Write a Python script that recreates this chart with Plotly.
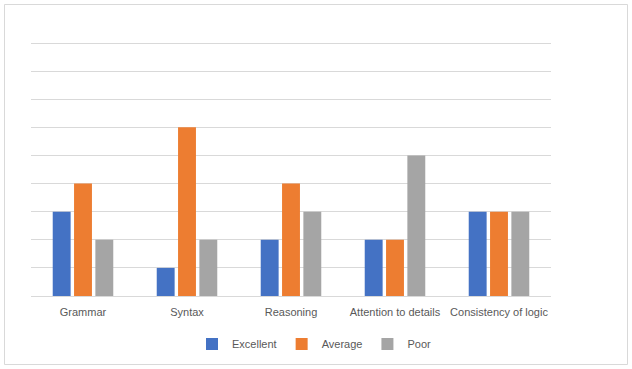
import plotly.graph_objects as go

categories = ["Grammar", "Syntax", "Reasoning", "Attention to details", "Consistency of logic"]
excellent = [3, 1, 2, 2, 3]
average = [4, 6, 4, 2, 3]
poor = [2, 2, 3, 5, 3]

colors = {"Excellent": "#4472C4", "Average": "#ED7D31", "Poor": "#A5A5A5"}

fig = go.Figure()
for name, vals in [("Excellent", excellent), ("Average", average), ("Poor", poor)]:
    fig.add_trace(go.Bar(x=categories, y=vals, name=name, marker_color=colors[name], marker_line_width=0))

L, R, T, B = 31, 551, 40, 296
W, H = 632, 369
pw, ph = R - L, B - T
ymax = 9 * ph / (B - 43)

def px(x):
    return (x - L) / pw

def py(y):
    return (B - y) / ph

fig.update_layout(
    width=W, height=H,
    margin=dict(l=L, r=W - R, t=T, b=H - B, autoexpand=False),
    paper_bgcolor="white", plot_bgcolor="white",
    barmode="group", bargap=0.385, bargroupgap=0.16,
    font=dict(family="Liberation Sans", size=11, color="#595959"),
    xaxis=dict(showgrid=False, showline=True, linecolor="#d9d9d9", linewidth=1,
               ticks="", ticklabelstandoff=6, tickfont=dict(size=11, color="#595959"), fixedrange=True),
    yaxis=dict(range=[0, ymax], tickvals=list(range(1, 10)), showgrid=True, gridcolor="#d9d9d9", gridwidth=1,
               showticklabels=False, zeroline=False, fixedrange=True),
    legend=dict(orientation="h", x=px(314), xanchor="center", y=py(344), yanchor="middle",
                font=dict(size=11, color="#595959"), itemwidth=30, traceorder="normal"),
    showlegend=True,
    shapes=[dict(type="rect", xref="paper", yref="paper",
                 x0=px(4.5), x1=px(627.5), y0=py(364.5), y1=py(4.5),
                 line=dict(color="#d9d9d9", width=1), fillcolor="rgba(0,0,0,0)", layer="below")],
)

fig.write_html("out.html", config={"displayModeBar": False},
               post_script="document.body.style.margin='0';")
